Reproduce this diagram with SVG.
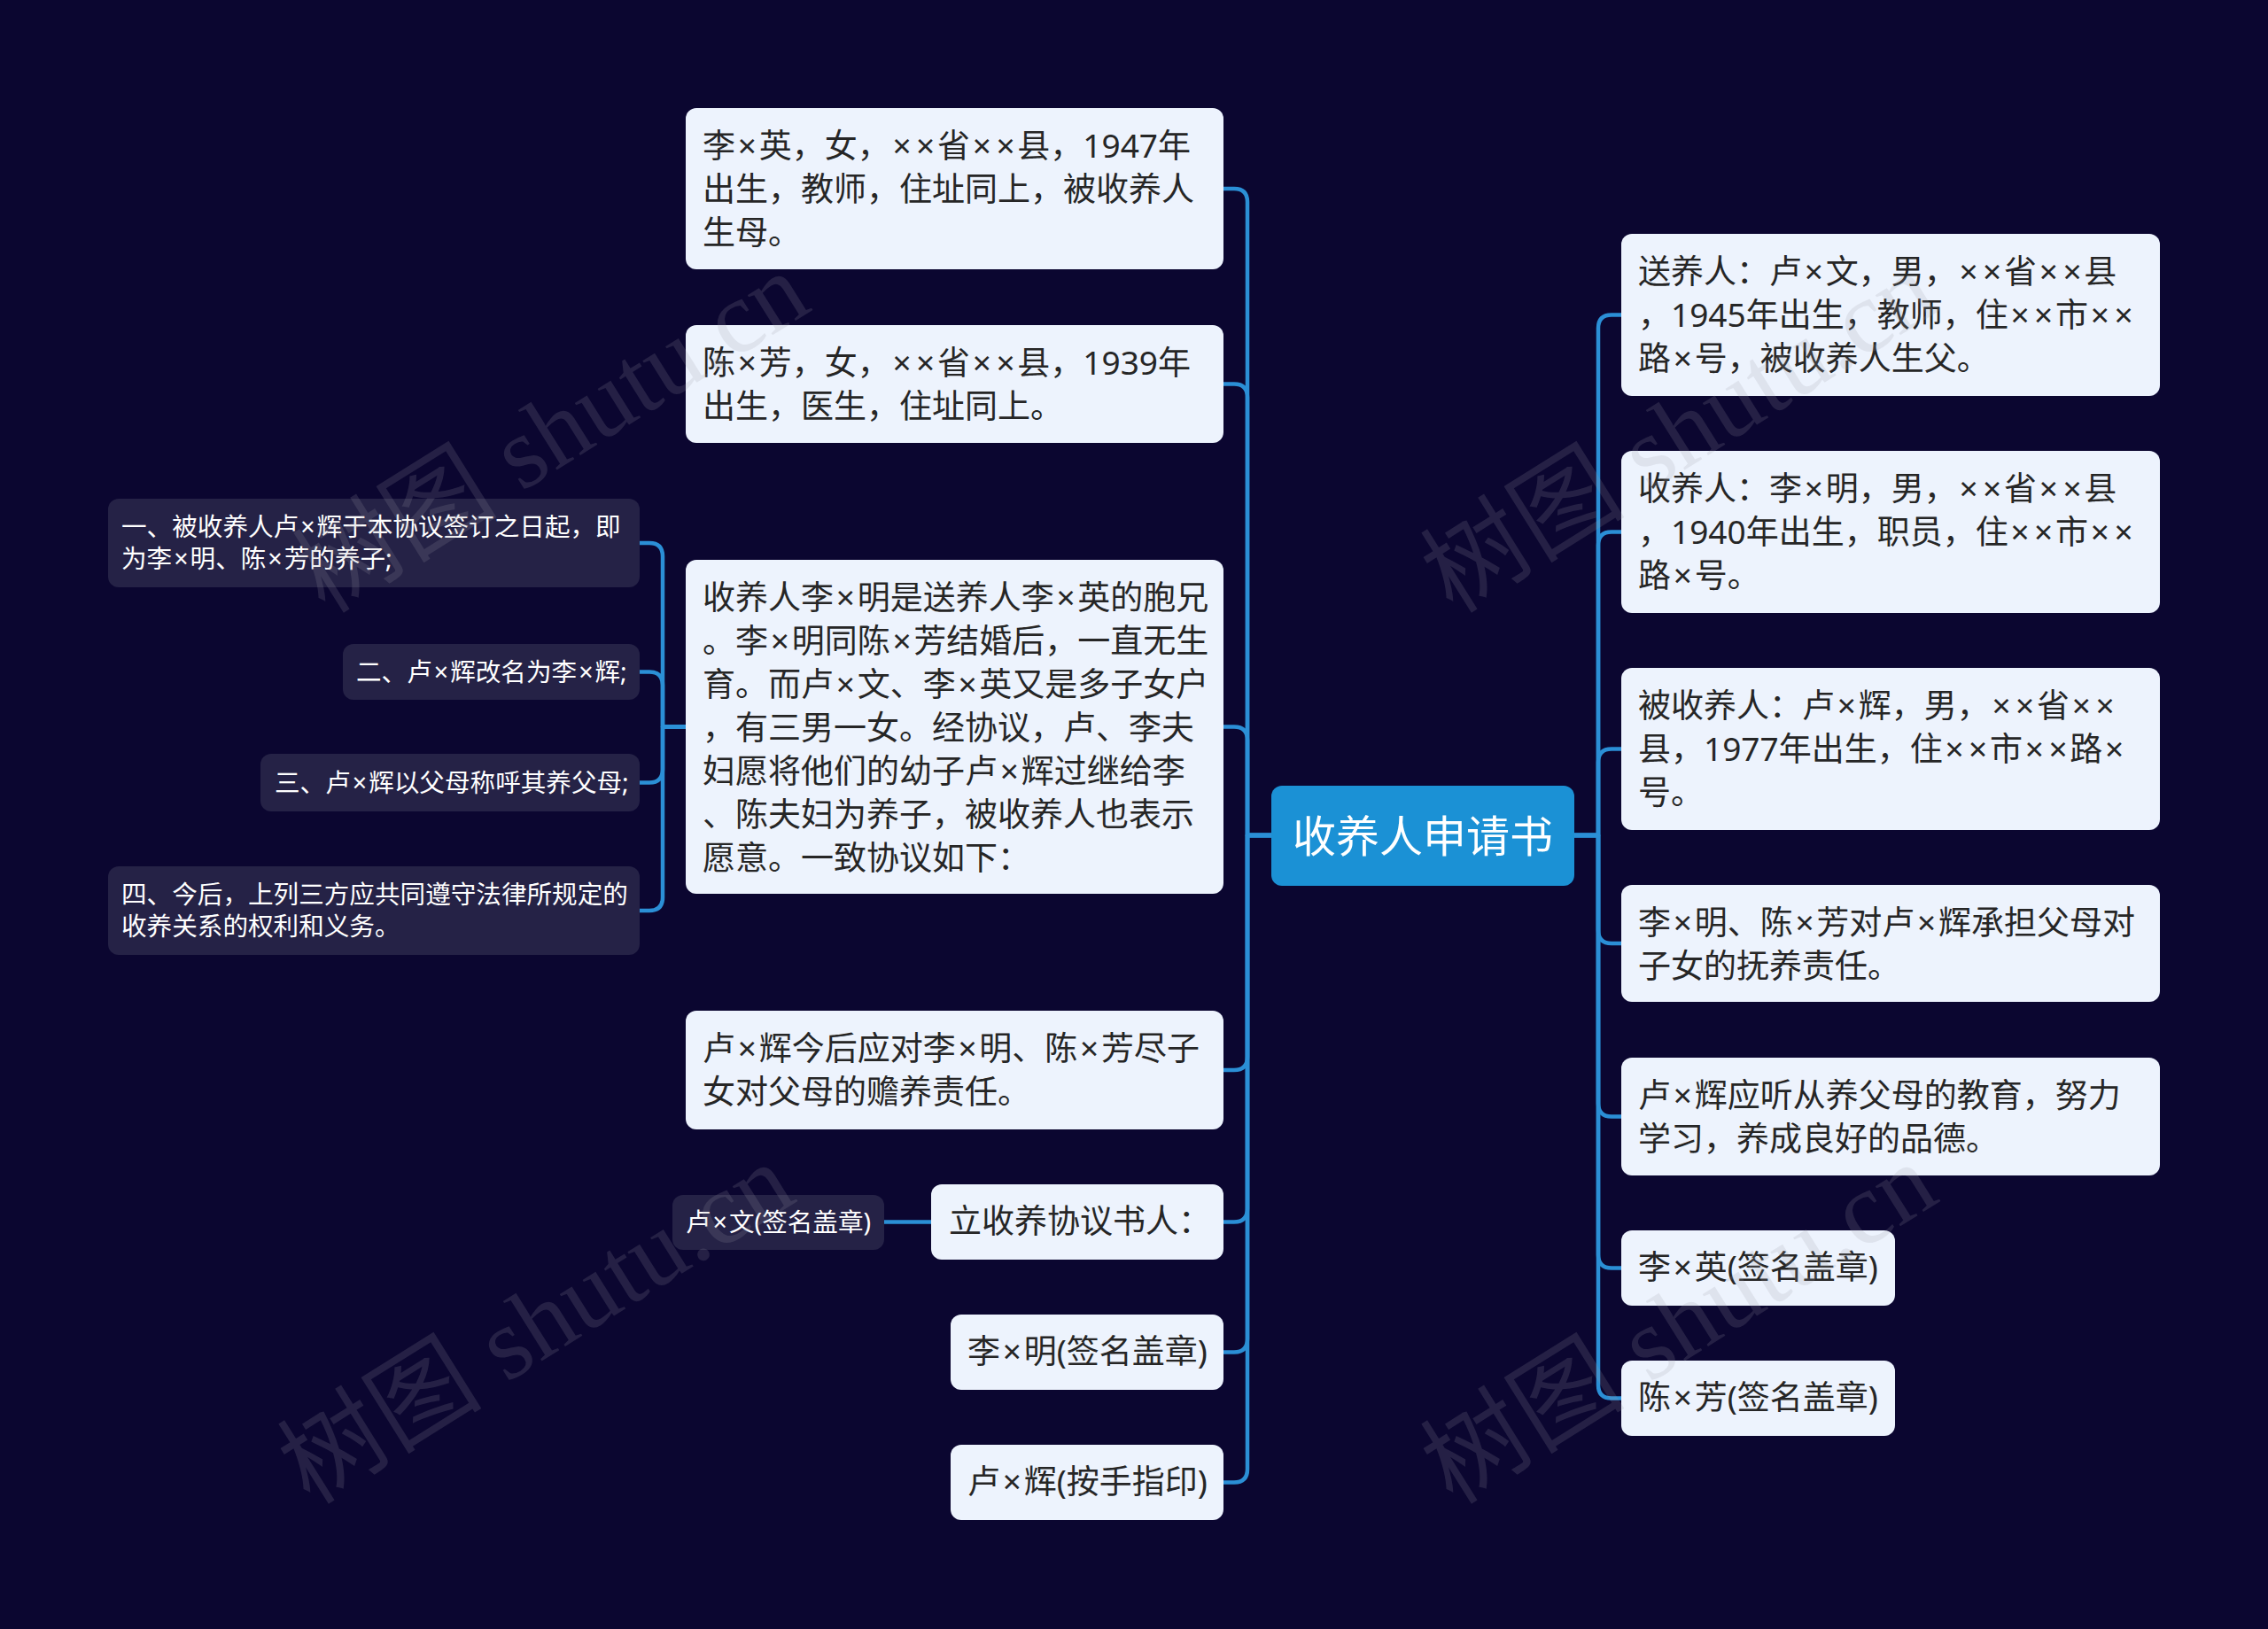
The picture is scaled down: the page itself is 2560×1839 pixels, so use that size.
<svg xmlns="http://www.w3.org/2000/svg" width="2560" height="1839" viewBox="0 0 2560 1839">
<style>
.bg{fill:#0b0630}
.wb{fill:#edf3fd}
.db{fill:#252246}
.cb{fill:#1b91d5}
.t{font-family:"Noto Sans","Noto Sans CJK SC",sans-serif;font-size:37px;fill:#262626}
.s{font-family:"Noto Sans","Noto Sans CJK SC",sans-serif;font-size:28.6px;fill:#ffffff}
.x{letter-spacing:2.75px}
.s .x{letter-spacing:2px}
.c{font-family:"Noto Sans CJK SC","Noto Sans",sans-serif;font-size:49px;fill:#ffffff}
.ln{fill:none;stroke:#2b8fd6;stroke-width:4.5;stroke-linecap:round;stroke-linejoin:round}
.wm{font-family:"Liberation Serif","Noto Sans CJK SC",serif;font-size:116px;fill:#9a9aa8;fill-opacity:0.18}
</style>
<rect class="bg" x="0" y="0" width="2560" height="1839"/>
<g id="connectors">
<path class="ln" d="M1435,943 H1408 V228 Q1408,213 1393,213 H1381"/>
<path class="ln" d="M1435,943 H1408 V448.5 Q1408,433.5 1393,433.5 H1381"/>
<path class="ln" d="M1435,943 H1408 V835.5 Q1408,820.5 1393,820.5 H1381"/>
<path class="ln" d="M1435,943 H1408 V1193 Q1408,1208 1393,1208 H1381"/>
<path class="ln" d="M1435,943 H1408 V1364.5 Q1408,1379.5 1393,1379.5 H1381"/>
<path class="ln" d="M1435,943 H1408 V1511.5 Q1408,1526.5 1393,1526.5 H1381"/>
<path class="ln" d="M1435,943 H1408 V1658.5 Q1408,1673.5 1393,1673.5 H1381"/>
<path class="ln" d="M1777,943 H1804 V370.5 Q1804,355.5 1819,355.5 H1830"/>
<path class="ln" d="M1777,943 H1804 V615.5 Q1804,600.5 1819,600.5 H1830"/>
<path class="ln" d="M1777,943 H1804 V860.5 Q1804,845.5 1819,845.5 H1830"/>
<path class="ln" d="M1777,943 H1804 V1050 Q1804,1065 1819,1065 H1830"/>
<path class="ln" d="M1777,943 H1804 V1245.5 Q1804,1260.5 1819,1260.5 H1830"/>
<path class="ln" d="M1777,943 H1804 V1416.5 Q1804,1431.5 1819,1431.5 H1830"/>
<path class="ln" d="M1777,943 H1804 V1563.5 Q1804,1578.5 1819,1578.5 H1830"/>
<path class="ln" d="M774,820.5 H748 V628 Q748,613 733,613 H722"/>
<path class="ln" d="M774,820.5 H748 V773.5 Q748,758.5 733,758.5 H722"/>
<path class="ln" d="M774,820.5 H748 V868.5 Q748,883.5 733,883.5 H722"/>
<path class="ln" d="M774,820.5 H748 V1013 Q748,1028 733,1028 H722"/>
<path class="ln" d="M1051,1379.5 H998"/>
</g>
<g id="center">
<rect class="cb" x="1435" y="887" width="342" height="113" rx="12"/>
<text class="c" x="1606" y="962" text-anchor="middle">收养人申请书</text>
</g>
<g id="L1">
<rect class="wb" x="774" y="122" width="607" height="182" rx="12"/>
<text class="t"><tspan x="793" y="178">李<tspan class="x" dx="2.75">×</tspan>英，女，<tspan class="x" dx="2.75 2.75">××</tspan>省<tspan class="x" dx="2.75 2.75">××</tspan>县，1947年</tspan><tspan x="793" y="227">出生，教师，住址同上，被收养人</tspan><tspan x="793" y="276">生母。</tspan></text>
</g>
<g id="L2">
<rect class="wb" x="774" y="367" width="607" height="133" rx="12"/>
<text class="t"><tspan x="793" y="423">陈<tspan class="x" dx="2.75">×</tspan>芳，女，<tspan class="x" dx="2.75 2.75">××</tspan>省<tspan class="x" dx="2.75 2.75">××</tspan>县，1939年</tspan><tspan x="793" y="472">出生，医生，住址同上。</tspan></text>
</g>
<g id="L3">
<rect class="wb" x="774" y="632" width="607" height="377" rx="12"/>
<text class="t"><tspan x="793" y="688">收养人李<tspan class="x" dx="2.75">×</tspan>明是送养人李<tspan class="x" dx="2.75">×</tspan>英的胞兄</tspan><tspan x="793" y="737">。李<tspan class="x" dx="2.75">×</tspan>明同陈<tspan class="x" dx="2.75">×</tspan>芳结婚后，一直无生</tspan><tspan x="793" y="786">育。而卢<tspan class="x" dx="2.75">×</tspan>文、李<tspan class="x" dx="2.75">×</tspan>英又是多子女户</tspan><tspan x="793" y="835">，有三男一女。经协议，卢、李夫</tspan><tspan x="793" y="884">妇愿将他们的幼子卢<tspan class="x" dx="2.75">×</tspan>辉过继给李</tspan><tspan x="793" y="933">、陈夫妇为养子，被收养人也表示</tspan><tspan x="793" y="982">愿意。一致协议如下：</tspan></text>
</g>
<g id="L3a">
<rect class="db" x="122" y="563" width="600" height="100" rx="12"/>
<text class="s"><tspan x="137" y="605">一、被收养人卢<tspan class="x" dx="2">×</tspan>辉于本协议签订之日起，即</tspan><tspan x="137" y="641">为李<tspan class="x" dx="2">×</tspan>明、陈<tspan class="x" dx="2">×</tspan>芳的养子;</tspan></text>
</g>
<g id="L3b">
<rect class="db" x="387" y="727" width="335" height="63" rx="12"/>
<text class="s" x="402" y="769">二、卢<tspan class="x" dx="2">×</tspan>辉改名为李<tspan class="x" dx="2">×</tspan>辉;</text>
</g>
<g id="L3c">
<rect class="db" x="294" y="851" width="428" height="65" rx="12"/>
<text class="s" x="310" y="894">三、卢<tspan class="x" dx="2">×</tspan>辉以父母称呼其养父母;</text>
</g>
<g id="L3d">
<rect class="db" x="122" y="978" width="600" height="100" rx="12"/>
<text class="s"><tspan x="137" y="1020">四、今后，上列三方应共同遵守法律所规定的</tspan><tspan x="137" y="1056">收养关系的权利和义务。</tspan></text>
</g>
<g id="L4">
<rect class="wb" x="774" y="1141" width="607" height="134" rx="12"/>
<text class="t"><tspan x="793" y="1197">卢<tspan class="x" dx="2.75">×</tspan>辉今后应对李<tspan class="x" dx="2.75">×</tspan>明、陈<tspan class="x" dx="2.75">×</tspan>芳尽子</tspan><tspan x="793" y="1246">女对父母的赡养责任。</tspan></text>
</g>
<g id="L5">
<rect class="wb" x="1051" y="1337" width="330" height="85" rx="12"/>
<text class="t" x="1071" y="1392">立收养协议书人：</text>
</g>
<g id="L5a">
<rect class="db" x="759" y="1349" width="239" height="62" rx="12"/>
<text class="s" x="774" y="1390">卢<tspan class="x" dx="2">×</tspan>文(签名盖章)</text>
</g>
<g id="L6">
<rect class="wb" x="1073" y="1484" width="308" height="85" rx="12"/>
<text class="t" x="1092" y="1539">李<tspan class="x" dx="2.75">×</tspan>明(签名盖章)</text>
</g>
<g id="L7">
<rect class="wb" x="1073" y="1631" width="308" height="85" rx="12"/>
<text class="t" x="1092" y="1686">卢<tspan class="x" dx="2.75">×</tspan>辉(按手指印)</text>
</g>
<g id="R1">
<rect class="wb" x="1830" y="264" width="608" height="183" rx="12"/>
<text class="t"><tspan x="1849" y="320">送养人：卢<tspan class="x" dx="2.75">×</tspan>文，男，<tspan class="x" dx="2.75 2.75">××</tspan>省<tspan class="x" dx="2.75 2.75">××</tspan>县</tspan><tspan x="1849" y="369">，1945年出生，教师，住<tspan class="x" dx="2.75 2.75">××</tspan>市<tspan class="x" dx="2.75 2.75">××</tspan></tspan><tspan x="1849" y="418">路<tspan class="x" dx="2.75">×</tspan>号，被收养人生父。</tspan></text>
</g>
<g id="R2">
<rect class="wb" x="1830" y="509" width="608" height="183" rx="12"/>
<text class="t"><tspan x="1849" y="565">收养人：李<tspan class="x" dx="2.75">×</tspan>明，男，<tspan class="x" dx="2.75 2.75">××</tspan>省<tspan class="x" dx="2.75 2.75">××</tspan>县</tspan><tspan x="1849" y="614">，1940年出生，职员，住<tspan class="x" dx="2.75 2.75">××</tspan>市<tspan class="x" dx="2.75 2.75">××</tspan></tspan><tspan x="1849" y="663">路<tspan class="x" dx="2.75">×</tspan>号。</tspan></text>
</g>
<g id="R3">
<rect class="wb" x="1830" y="754" width="608" height="183" rx="12"/>
<text class="t"><tspan x="1849" y="810">被收养人：卢<tspan class="x" dx="2.75">×</tspan>辉，男，<tspan class="x" dx="2.75 2.75">××</tspan>省<tspan class="x" dx="2.75 2.75">××</tspan></tspan><tspan x="1849" y="859">县，1977年出生，住<tspan class="x" dx="2.75 2.75">××</tspan>市<tspan class="x" dx="2.75 2.75">××</tspan>路<tspan class="x" dx="2.75">×</tspan></tspan><tspan x="1849" y="908">号。</tspan></text>
</g>
<g id="R4">
<rect class="wb" x="1830" y="999" width="608" height="132" rx="12"/>
<text class="t"><tspan x="1849" y="1055">李<tspan class="x" dx="2.75">×</tspan>明、陈<tspan class="x" dx="2.75">×</tspan>芳对卢<tspan class="x" dx="2.75">×</tspan>辉承担父母对</tspan><tspan x="1849" y="1104">子女的抚养责任。</tspan></text>
</g>
<g id="R5">
<rect class="wb" x="1830" y="1194" width="608" height="133" rx="12"/>
<text class="t"><tspan x="1849" y="1250">卢<tspan class="x" dx="2.75">×</tspan>辉应听从养父母的教育，努力</tspan><tspan x="1849" y="1299">学习，养成良好的品德。</tspan></text>
</g>
<g id="R6">
<rect class="wb" x="1830" y="1389" width="309" height="85" rx="12"/>
<text class="t" x="1849" y="1444">李<tspan class="x" dx="2.75">×</tspan>英(签名盖章)</text>
</g>
<g id="R7">
<rect class="wb" x="1830" y="1536" width="309" height="85" rx="12"/>
<text class="t" x="1849" y="1591">陈<tspan class="x" dx="2.75">×</tspan>芳(签名盖章)</text>
</g>
<g id="watermarks">
<text class="wm" transform="translate(367,694) rotate(-32)">树图 shutu.cn</text>
<text class="wm" transform="translate(1640,694) rotate(-32)">树图 shutu.cn</text>
<text class="wm" transform="translate(350,1700) rotate(-32)">树图 shutu.cn</text>
<text class="wm" transform="translate(1640,1700) rotate(-32)">树图 shutu.cn</text>
</g>
</svg>
